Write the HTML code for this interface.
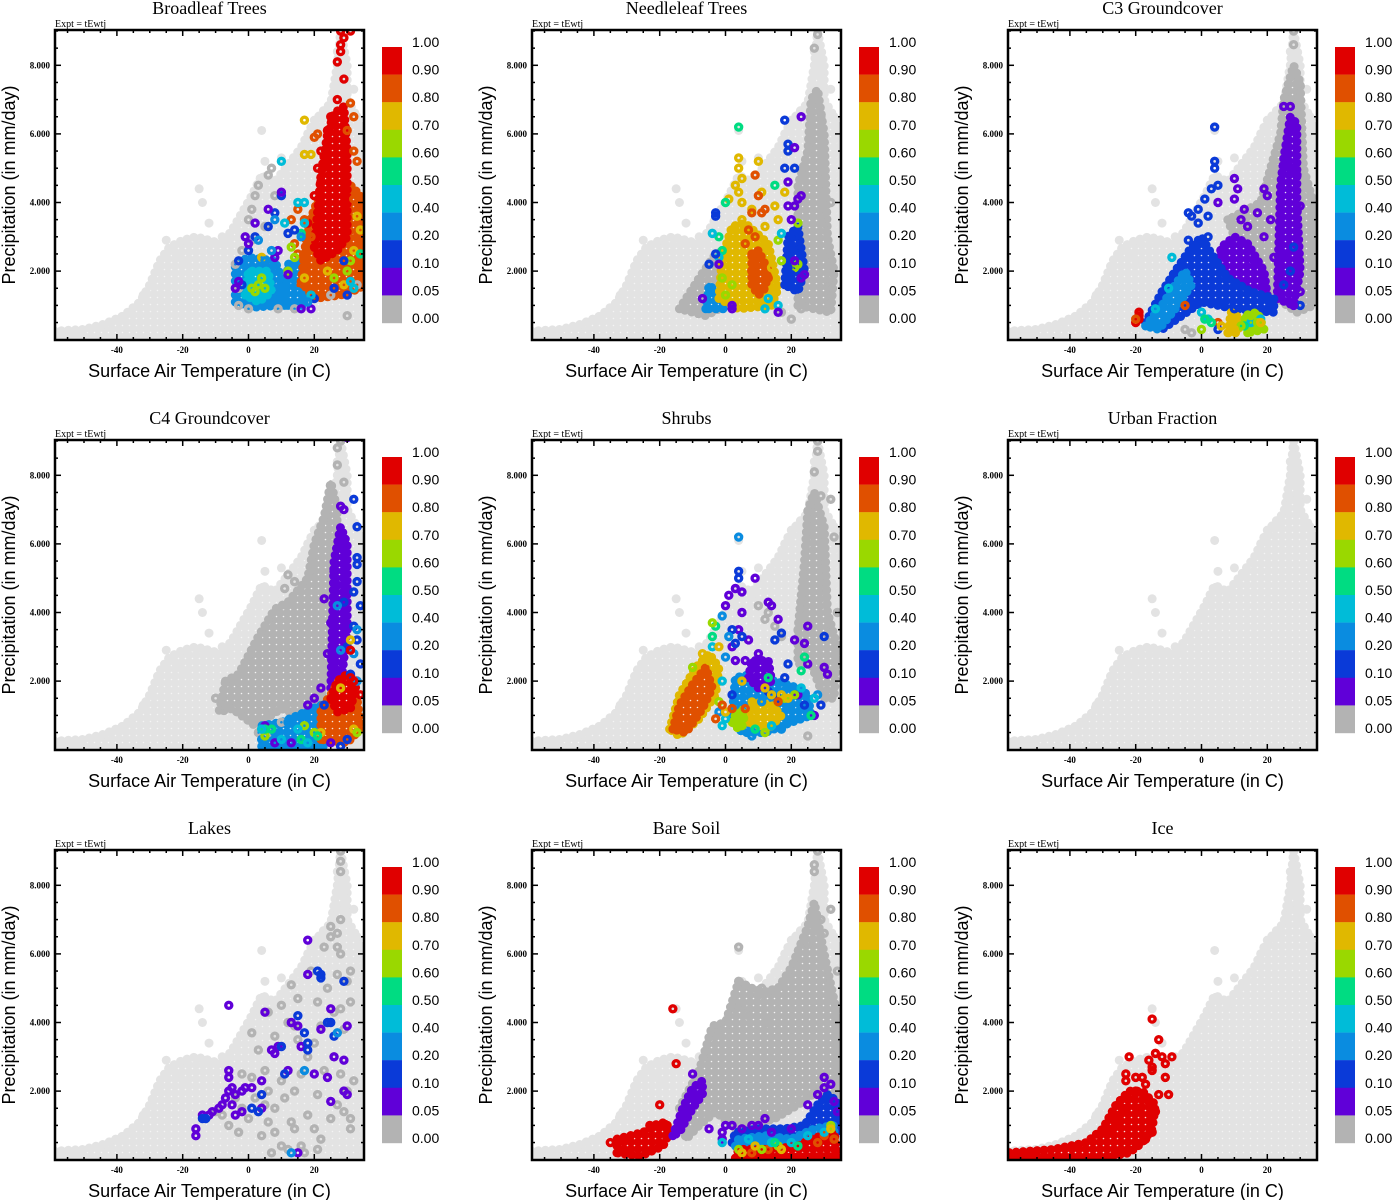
<!DOCTYPE html>
<html><head><meta charset="utf-8"><style>
body{margin:0;background:#fff;}
svg{display:block;}
.ser{font-family:"Liberation Serif",serif;}
.san{font-family:"Liberation Sans",sans-serif;}
</style></head><body>
<svg id="fig" width="1393" height="1200" xmlns="http://www.w3.org/2000/svg"><defs id="defs"></defs></svg>
<script>
// ---- shared axis data ----
const xTicks=[-40,-20,0,20];
const yTicks=[2,4,6,8];
const yTickLabels=["2.000","4.000","6.000","8.000"];
const cbLabels=["1.00","0.90","0.80","0.70","0.60","0.50","0.40","0.20","0.10","0.05","0.00"];
const cbColors=["#e00000","#e05000","#e0b800","#9ad800","#00dc82","#00bcd8","#0a8ce0","#0a3ad8","#6000d8","#b3b3b3"];
const binEdges=[0.9,0.8,0.7,0.6,0.5,0.4,0.2,0.1,0.05,0];
const titles=["Broadleaf Trees","Needleleaf Trees","C3 Groundcover","C4 Groundcover","Shrubs","Urban Fraction","Lakes","Bare Soil","Ice"];
// shared light-grey cloud (all grid cells)
const cloudUpper=[[-59,0.25],[-50,0.3],[-44,0.45],[-38,0.7],[-33,1.1],[-30,1.6],[-27,2.3],[-24,2.7],[-20,2.9],[-16,3.0],[-12,2.9],[-8,2.8],[-5,3.2],[-2,3.7],[1,4.2],[4,4.8],[8,4.6],[12,5.1],[16,5.6],[19,6.2],[22,6.6],[25,6.9],[27,8.0],[28,9.0],[30,8.0],[30,7.0],[33,6.5],[35,6.0]];
const cloudLower=[[35,0],[-59,0]];
const cloudPts=[[-32,1.3],[-25,2.9],[-15,4.4],[-14,4.0],[-12,3.4],[4,6.1],[5,5.2],[10,5.3],[20,6.4],[18,6.0],[27,8.4],[28,8.8],[32,7.3],[24,6.5],[33,6.5],[-8,3.0],[-20,2.3],[-22,2.5],[8,4.5],[29,7.8],[27,7.3]];

// ---- Broadleaf ----
const blBlobs=[
 [0.3,[[-4,1.1],[-4,2.2],[0,2.4],[8,2.3],[10,1.8],[9,1.0],[2,0.95]]],
 [0.45,[[-1,1.3],[0,2.0],[6,2.0],[7,1.4],[3,1.1]]],
 [0.3,[[11,1.0],[12,2.2],[17,2.3],[17,1.0]]],
 [0.85,[[16,1.7],[18,3.3],[22,4.3],[30,4.6],[34,4.2],[34,1.5],[28,1.3],[20,1.2]]],
 [0.95,[[20,2.7],[22,4.8],[24,6.0],[26,6.6],[29,6.8],[30,5.5],[30,3.0],[27,2.6],[22,2.3]]]];
const blGrey=[[-3,1.5],[-4,2.2],[-2,2.6],[0,3.5],[1,3.8],[3,4.5],[2,4.2],[6,4.8],[7,5.0],[5,3.3],[8,4.2],[14,0.9],[30,0.7],[33,1.6],[-3,1.0],[0,0.9],[25,1.3],[9,0.9],[1,2.9]];
const blPts=[[2,1.4,0.65],[3,1.6,0.65],[4,1.8,0.65],[1,1.5,0.65],[5,1.5,0.65],
[28,9.0,0.95],[29,8.8,0.95],[28,8.6,0.95],[28,8.4,0.95],[27,8.1,0.95],[29,7.6,0.95],[27,7.0,0.95],[25,6.5,0.95],[21,5.0,0.95],[23,5.1,0.95],[22,4.6,0.95],[20,4.2,0.95],[18,3.4,0.95],[24,6.1,0.95],[22,5.5,0.95],[31,9.0,0.95],
[20,5.9,0.85],[21,6.0,0.85],[31,6.9,0.85],[32,6.5,0.85],[30,6.1,0.85],[32,5.5,0.85],[33,5.2,0.85],[32,4.1,0.85],[13,3.5,0.85],[15,3.8,0.85],[17,3.5,0.85],[19,3.0,0.85],[14,2.8,0.85],[15,2.5,0.85],[17,2.0,0.85],[16,1.6,0.85],[33,3.0,0.85],
[17,6.4,0.75],[17,5.4,0.75],[19,5.4,0.75],[33,3.6,0.75],[34,3.2,0.75],[32,2.6,0.75],[29,1.6,0.75],[17,1.8,0.75],[24,2.0,0.75],[4,2.4,0.75],
[30,2.0,0.65],[31,2.3,0.65],[26,1.8,0.65],[13,2.7,0.65],[14,2.4,0.65],[12,2.0,0.65],[34,2.5,0.55],[16,3.1,0.55],
[10,4.2,0.15],[2,3.0,0.15],[6,3.3,0.15],[8,3.7,0.15],[0,2.6,0.15],[12,3.1,0.15],[14,3.2,0.15],[-3,2.3,0.15],[-2,1.6,0.15],[29,2.3,0.15],[30,1.3,0.15],[26,1.5,0.15],[20,1.2,0.15],
[10,5.2,0.45],[17,4.0,0.45],[15,4.0,0.45],[17,3.4,0.45],[11,3.4,0.45],[31,1.7,0.45],[32,1.5,0.45],[19,1.3,0.45],
[10,4.3,0.07],[6,3.8,0.07],[2,3.4,0.07],[-1,3.0,0.07],[0,2.8,0.07],[-3,1.7,0.07],[-4,1.5,0.07],[9,2.6,0.07],[16,0.9,0.07],[19,0.9,0.07],[12,1.9,0.07],[8,2.4,0.07],
[8,3.5,0.3],[7,2.6,0.3],[3,2.9,0.3],[5,2.3,0.3],[16,3.0,0.3],[15,1.4,0.3],[18,1.1,0.3]];

// ---- Needleleaf ----
const nlBlobs=[
 [0,[[-14,0.9],[-8,1.8],[-3,2.5],[0,2.6],[0,1.0],[-6,0.7]]],
 [0,[[22,1.0],[22,4.5],[25,5.5],[26,7.0],[28,7.3],[30,6.0],[31,3.0],[33,2.0],[32,0.8]]],
 [0.3,[[-6,0.9],[-5,1.6],[-3,1.4],[0,0.9]]],
 [0.75,[[-2,1.2],[-1,2.4],[2,3.3],[6,3.4],[13,2.8],[16,1.5],[14,1.0],[4,0.9]]],
 [0.85,[[8,2.5],[10,2.6],[13,2.0],[12,1.5],[10,1.3],[8,1.6]]],
 [0.12,[[18,1.6],[19,3.0],[22,3.3],[24,2.0],[22,1.4]]]];
const nlGrey=[[27,8.5],[28,8.9],[29,6.5],[30,3.4],[29,2.5],[31,1.7],[23,0.9],[20,0.6],[17,0.8],[32,4.0]];
const nlPts=[[4,5.3,0.75],[4,5.0,0.75],[10,5.2,0.75],[5,4.7,0.75],[3,4.5,0.75],[4,4.3,0.75],[1,4.1,0.75],[5,4.0,0.75],[11,4.3,0.75],[8,3.8,0.75],[5,3.5,0.75],[12,3.3,0.75],[16,3.5,0.75],[18,4.3,0.75],[15,3.9,0.75],[17,2.3,0.75],[14,2.1,0.75],
[9,4.8,0.85],[10,4.2,0.85],[8,3.7,0.85],[11,3.7,0.85],[7,3.2,0.85],[9,3.0,0.85],[12,3.8,0.85],[13,1.8,0.85],[8,2.0,0.85],[6,2.8,0.85],
[16,2.9,0.65],[22,3.4,0.65],[22,2.2,0.65],[21,2.1,0.65],[17,2.3,0.65],[0,1.3,0.65],[2,1.6,0.65],[-1,1.8,0.65],
[4,6.2,0.55],[0,4.0,0.55],[-2,3.0,0.55],[15,4.5,0.55],[-1,2.6,0.55],
[-4,3.1,0.45],[-2,2.4,0.45],[17,3.1,0.45],[16,1.0,0.45],[12,0.9,0.45],[13,1.2,0.45],
[18,6.4,0.15],[19,5.7,0.15],[19,5.5,0.15],[18,5.0,0.15],[21,5.0,0.15],[-3,3.7,0.15],[-3,3.6,0.15],[21,3.0,0.15],[22,2.6,0.15],[-5,2.2,0.15],[-3,2.5,0.15],[20,1.9,0.15],[19,2.1,0.15],
[23,6.5,0.07],[21,5.6,0.07],[19,4.6,0.07],[19,3.9,0.07],[22,4.1,0.07],[23,4.2,0.07],[21,3.9,0.07],[20,3.5,0.07],[21,2.3,0.07],[24,1.9,0.07],[23,1.8,0.07],[-7,1.2,0.07],[2,1.0,0.07],[2,0.9,0.07],[16,0.8,0.07],[-2,2.2,0.07]];

// ---- C3 ----
const c3Blobs=[
 [0,[[8,3.5],[10,3.0],[16,2.5],[23,1.2],[29,0.8],[34,1.0],[34,4.0],[31,5.0],[30,7.5],[28,8.0],[25,7.0],[24,6.0],[21,5.0],[18,4.0]]],
 [0.07,[[23,1.2],[24,4.5],[25,5.3],[27,6.5],[29,6.3],[29,4.0],[30,2.0],[28,1.0]]],
 [0.07,[[4,1.6],[6,2.7],[10,3.0],[14,2.8],[19,2.0],[20,1.3],[12,1.2]]],
 [0.15,[[-17,0.5],[-12,1.4],[-8,2.0],[-3,2.7],[0,3.0],[3,2.5],[8,1.8],[15,1.4],[22,1.2],[22,0.8],[10,0.9],[0,1.1],[-6,0.7],[-12,0.3]]],
 [0.3,[[-17,0.4],[-12,1.0],[-8,1.6],[-5,2.0],[-3,1.6],[-8,0.9],[-13,0.3]]],
 [0.75,[[8,0.2],[9,0.8],[12,0.6],[11,0.2]]],
 [0.65,[[14,0.2],[13,0.7],[17,0.8],[19,0.3]]]];
const c3Grey=[[28,8.6],[28,9.0],[27,7.0],[30,7.4],[-5,0.3],[-3,0.2]];
const c3Pts=[[-19,0.7,0.95],[-19,0.6,0.95],[-20,0.5,0.95],[-19,0.8,0.95],[-20,0.6,0.85],[-5,1.0,0.85],[5,0.5,0.85],
[4,6.2,0.15],[4,5.2,0.15],[4,5.0,0.15],[5,4.5,0.15],[3,4.4,0.15],[1,4.1,0.15],[-4,3.7,0.15],[-3,3.6,0.15],[-1,3.8,0.15],[2,3.6,0.15],[-1,3.4,0.15],[2,3.0,0.15],[-4,2.9,0.15],[10,0.9,0.15],[5,0.3,0.15],[25,1.6,0.15],[30,1.0,0.15],[27,2.0,0.15],[28,2.7,0.15],
[10,4.7,0.07],[10,4.1,0.07],[11,4.4,0.07],[5,4.0,0.07],[13,3.8,0.07],[12,3.5,0.07],[14,3.3,0.07],[19,4.4,0.07],[20,4.2,0.07],[17,3.7,0.07],[21,3.5,0.07],[19,3.0,0.07],[16,2.3,0.07],[25,6.8,0.07],[27,6.8,0.07],[27,6.1,0.07],[26,5.6,0.07],[28,5.0,0.07],[29,4.8,0.07],[30,3.9,0.07],[30,1.4,0.07],[28,1.0,0.07],[25,2.5,0.07],[22,2.4,0.07],
[-9,2.4,0.45],[-14,0.9,0.45],[-10,1.5,0.45],[0,0.8,0.45],[2,0.6,0.45],[15,0.5,0.45],[18,0.6,0.45],
[1,0.6,0.55],[3,0.5,0.55],[13,0.4,0.55],[0,0.3,0.65],[17,0.5,0.65],[15,0.7,0.65],[12,0.4,0.65],
[6,0.4,0.75],[9,0.4,0.75],[10,0.3,0.75],[18,0.5,0.75]];

// ---- C4 ----
const c4Blobs=[
 [0,[[-7,2.0],[-3,2.2],[3,3.3],[8,4.1],[12,4.3],[18,5.0],[20,6.0],[23,6.8],[25,7.8],[27,7.0],[26,3.0],[22,1.5],[18,0.9],[10,1.2],[2,0.7],[-5,1.2],[-9,1.1]]],
 [0.07,[[25,1.8],[26,5.5],[28,6.5],[30,6.0],[30,3.5],[28,1.8]]],
 [0.3,[[4,0.1],[4,0.7],[10,0.8],[15,1.0],[22,1.3],[23,0.1]]],
 [0.85,[[22,0.3],[22,1.2],[25,1.6],[28,2.1],[31,1.8],[33,1.5],[34,0.6],[30,0.2]]],
 [0.95,[[25,1.5],[27,2.0],[30,2.2],[33,2.0],[31,1.2],[27,1.1]]]];
const c4Grey=[[27,8.8],[28,9.0],[27,8.3],[29,7.8],[26,7.3],[11,4.7],[-10,1.5],[-8,1.3],[3,0.5],[10,0.8],[6,0.5],[14,4.9],[12,5.1]];
const c4Pts=[[30,9.1,0.07],[28,7.1,0.07],[29,7.0,0.07],[28,6.0,0.07],[26,5.2,0.07],[27,4.8,0.07],[23,4.4,0.07],[25,3.7,0.07],[24,2.8,0.07],[22,1.8,0.07],[20,1.5,0.07],[18,1.3,0.07],[5,0.7,0.07],[8,0.2,0.07],[13,0.2,0.07],[25,0.2,0.07],
[32,7.3,0.15],[33,6.5,0.15],[33,5.6,0.15],[33,5.4,0.15],[33,4.9,0.15],[32,4.6,0.15],[34,4.2,0.15],[32,3.6,0.15],[33,3.2,0.15],[30,3.0,0.15],[29,4.3,0.15],[34,2.5,0.15],[31,2.2,0.15],[23,1.3,0.15],[28,0.1,0.15],[30,0.3,0.15],
[33,3.5,0.3],[32,2.8,0.3],[33,2.0,0.3],[27,4.2,0.3],[28,2.9,0.3],[12,0.8,0.3],[8,0.5,0.3],[4,0.3,0.3],
[31,3.2,0.75],[28,1.8,0.75],[22,0.5,0.75],[32,0.6,0.75],[31,2.9,0.95],[31,2.1,0.95],[32,2.0,0.95],[34,1.6,0.95],
[5,0.4,0.65],[17,0.7,0.65],[20,0.5,0.65],[33,0.5,0.65],[7,0.6,0.55],[5,0.6,0.55],[16,0.3,0.55],[21,0.4,0.55],
[4,0.6,0.45],[15,0.6,0.45],[18,0.2,0.45],[10,0.3,0.45]];

// ---- Shrubs ----
const shBlobs=[
 [0,[[22,3.5],[24,5.5],[25,7.0],[27,7.5],[30,6.5],[31,4.0],[34,3.0],[33,1.5],[30,1.5],[26,2.5],[22,2.5]]],
 [0.75,[[-17,0.6],[-14,1.6],[-9,2.4],[-5,2.8],[-2,2.4],[-3,1.6],[-8,0.9],[-14,0.4]]],
 [0.85,[[-16,0.6],[-14,1.3],[-10,1.9],[-6,2.4],[-4,1.8],[-7,1.2],[-12,0.5]]],
 [0.3,[[2,1.0],[3,2.1],[8,2.2],[15,2.0],[22,1.8],[25,1.6],[26,1.0],[20,0.8],[12,0.5],[5,0.5]]],
 [0.07,[[7,2.1],[8,2.6],[13,2.6],[14,2.0],[10,1.8]]],
 [0.75,[[7,0.8],[8,1.4],[14,1.3],[17,1.0],[13,0.6]]],
 [0.65,[[2,0.8],[4,1.2],[6,1.0],[4,0.6]]]];
const shGrey=[[10,4.2],[12,3.8],[13,4.0],[28,8.7],[28,9.0],[27,8.1],[29,7.4],[32,7.3],[33,6.2],[34,4.0],[25,0.4],[17,3.3],[15,3.6]];
const shPts=[[1,4.5,0.07],[3,4.7,0.07],[5,4.6,0.07],[0,4.2,0.07],[5,4.0,0.07],[9,5.0,0.07],[13,4.3,0.07],[14,4.2,0.07],[16,3.8,0.07],[25,3.6,0.07],[4,3.5,0.07],[7,3.2,0.07],[3,2.6,0.07],[10,2.8,0.07],[21,3.2,0.07],[25,2.5,0.07],[24,3.1,0.07],[30,2.4,0.07],[31,2.2,0.07],[22,1.6,0.07],[27,1.0,0.07],[6,2.6,0.07],[2,3.0,0.07],
[4,5.2,0.15],[4,5.0,0.15],[2,3.5,0.15],[5,3.3,0.15],[3,3.1,0.15],[15,3.2,0.15],[17,3.4,0.15],[19,2.5,0.15],[30,3.3,0.15],[18,2.1,0.15],[16,1.5,0.15],[29,1.3,0.15],[2,1.6,0.15],[13,1.7,0.15],[24,1.3,0.15],
[4,6.2,0.3],[-1,3.9,0.3],[1,3.3,0.3],[0,2.7,0.3],[6,1.6,0.3],[3,1.3,0.3],[11,1.4,0.3],[20,1.3,0.3],[28,1.6,0.3],[-2,1.1,0.3],[17,0.6,0.3],[8,0.4,0.3],
[-4,3.0,0.45],[-1,2.0,0.45],[0,0.9,0.45],[-1,0.7,0.45],[23,1.8,0.45],[27,1.5,0.45],[14,0.7,0.45],
[-4,3.3,0.55],[-3,3.6,0.55],[24,2.7,0.55],[13,2.1,0.55],[23,2.3,0.55],[26,1.0,0.55],[9,0.6,0.55],
[-4,3.7,0.65],[-10,2.4,0.65],[-2,1.4,0.65],[18,1.5,0.65],[21,1.6,0.65],[5,0.7,0.65],[12,0.5,0.65],
[-2,3.0,0.75],[5,2.0,0.75],[12,1.8,0.75],[14,1.6,0.75],[17,1.6,0.75],[19,1.5,0.75],[-7,2.8,0.75],[-5,2.6,0.75],[0,1.1,0.75],
[-1,1.3,0.85],[2,1.2,0.85],[6,1.2,0.85],[16,1.4,0.85],[-3,0.9,0.85]];

// ---- Urban ----
const urBlobs=[];
const urGrey=[];
const urPts=[];

// ---- Lakes ----
const lkBlobs=[];
const lkGrey=[[-2,2.5],[1,2.4],[5,2.6],[10,2.3],[12,2.6],[3,3.2],[8,3.6],[1,3.7],[6,4.3],[12,4.0],[14,3.9],[15,3.5],[10,4.5],[13,5.1],[15,4.7],[19,5.5],[23,6.2],[25,6.5],[25,6.8],[27,6.6],[28,6.0],[27,5.4],[24,5.0],[26,4.3],[22,3.9],[20,3.4],[18,3.0],[16,2.5],[14,2.0],[11,1.8],[8,1.5],[5,1.6],[2,1.8],[-2,1.5],[-4,1.8],[-8,1.3],[-10,1.4],[-6,1.0],[6,1.1],[8,0.8],[14,0.9],[10,0.4],[12,0.3],[16,0.4],[17,0.2],[21,0.3],[22,0.6],[25,1.2],[27,1.6],[29,1.4],[31,1.2],[31,0.9],[30,2.0],[28,2.5],[32,2.3],[26,3.0],[29,3.8],[31,4.6],[28,4.4],[30,5.2],[31,5.5],[28,7.0],[28,8.7],[28,8.4],[28,9.0],[27,6.2],[21,4.6],[-3,0.8],[0,1.2],[6,2.0],[18,1.3],[21,1.9],[23,2.6],[4,0.7],[20,0.9],[7,0.2],[13,1.1]];
const lkPts=[[-16,0.9,0.07],[-16,0.7,0.07],[-14,1.3,0.07],[-12,1.3,0.07],[-11,1.4,0.07],[-9,1.5,0.07],[-8,1.6,0.07],[-7,1.8,0.07],[-6,2.0,0.07],[-5,2.1,0.07],[-6,2.4,0.07],[-4,1.9,0.07],[-5,1.6,0.07],[-2,2.0,0.07],[-1,2.1,0.07],[1,2.1,0.07],[4,2.3,0.07],[4,1.5,0.07],[-2,1.4,0.07],[-4,1.3,0.07],[-6,2.6,0.07],[-6,4.5,0.07],[5,4.3,0.07],[7,3.2,0.07],[8,3.1,0.07],[9,3.3,0.07],[12,2.6,0.07],[13,4.0,0.07],[18,6.4,0.07],[18,5.4,0.07],[15,3.9,0.07],[16,3.3,0.07],[20,2.5,0.07],[25,4.4,0.07],[22,3.8,0.07],[26,3.0,0.07],[30,3.9,0.07],[29,2.0,0.07],[25,1.7,0.07],[30,1.9,0.07],[29,2.9,0.07],[24,2.4,0.07],[15,0.2,0.07],
[-14,1.2,0.15],[-13,1.2,0.15],[1,1.5,0.15],[3,1.4,0.15],[4,1.9,0.15],[10,3.3,0.15],[11,2.5,0.15],[15,4.2,0.15],[17,3.7,0.15],[18,3.4,0.15],[18,3.2,0.15],[21,5.5,0.15],[22,5.4,0.15],[22,5.3,0.15],[24,4.0,0.15],[25,4.0,0.15],[26,3.6,0.15],[29,5.2,0.15],
[17,2.6,0.3],[27,3.7,0.3],[13,0.2,0.3]];

// ---- Bare soil ----
const bsBlobs=[
 [0,[[-14,1.5],[-8,2.6],[-4,3.9],[0,4.0],[4,5.2],[8,5.0],[12,4.9],[16,5.0],[20,5.6],[25,6.8],[27,7.5],[30,6.0],[34,4.2],[34,1.6],[28,2.0],[22,1.6],[15,1.2],[8,1.0],[3,0.9],[-3,1.4],[-8,1.0],[-12,0.6]]],
 [0.95,[[-33,0.2],[-33,0.6],[-25,0.8],[-22,1.0],[-18,1.1],[-17,0.8],[-19,0.4],[-26,0.1]]],
 [0.07,[[-16,0.7],[-13,1.5],[-10,2.1],[-7,2.3],[-7,1.9],[-10,1.5],[-14,0.8]]],
 [0.15,[[2,0.5],[3,0.8],[10,0.9],[18,0.9],[24,1.0],[28,1.6],[31,1.9],[34,1.7],[34,0.8],[25,0.6],[15,0.6],[8,0.5]]],
 [0.3,[[3,0.4],[4,0.6],[12,0.7],[20,0.6],[27,0.9],[33,1.0],[33,0.6],[20,0.4],[10,0.4]]],
 [0.95,[[3,0.05],[4,0.3],[8,0.3],[14,0.3],[22,0.4],[26,0.6],[33,0.8],[34,0.1]]]];
const bsGrey=[[4,6.2],[4,5.2],[10,4.8],[11,5.0],[27,8.6],[28,9.0],[27,8.4],[-3,3.7],[0,3.9],[3,4.4],[5,4.5],[7,4.2],[13,4.0],[15,3.7],[25,6.3],[30,6.6],[32,7.3],[34,5.5],[29,7.0]];
const bsPts=[[-35,0.5,0.95],[-16,4.4,0.95],[-15,2.8,0.95],[-20,1.6,0.95],[-23,1.0,0.95],
[8,0.2,0.85],[13,0.3,0.85],[30,0.7,0.85],[33,0.6,0.85],[28,0.5,0.85],
[-10,2.5,0.07],[-5,0.9,0.07],[-1,0.8,0.07],[0,1.0,0.07],[2,1.0,0.07],[5,0.9,0.07],[8,1.0,0.07],[10,1.0,0.07],[12,1.2,0.07],[14,0.8,0.07],[20,0.9,0.07],[25,1.6,0.07],[28,1.9,0.07],[30,2.1,0.07],[30,2.4,0.07],[32,2.2,0.07],[33,1.7,0.07],[34,1.4,0.07],[-1,0.6,0.07],
[-1,0.5,0.45],[20,0.5,0.45],[25,0.7,0.45],[30,0.8,0.45],[7,0.6,0.45],[14,0.5,0.45],
[4,0.3,0.65],[11,0.3,0.65],[16,0.4,0.65],[32,1.0,0.65],[5,0.2,0.75],[17,0.3,0.75],[32,0.9,0.75],[9,0.4,0.75],[15,0.5,0.55],[22,0.4,0.55]];

// ---- Ice ----
const icBlobs=[[0.95,[[-59,0.05],[-59,0.2],[-45,0.3],[-35,0.5],[-30,0.9],[-26,1.6],[-22,2.0],[-18,2.0],[-14,1.6],[-15,0.9],[-18,0.5],[-22,0.2],[-30,0.05]]]];
const icGrey=[];
const icPts=[[-15,4.1,0.95],[-13,3.5,0.95],[-14,3.1,0.95],[-15,2.7,0.95],[-16,2.9,0.95],[-15,2.6,0.95],[-12,3.0,0.95],[-11,2.8,0.95],[-11,2.4,0.95],[-9,3.0,0.95],[-10,1.9,0.95],[-22,3.0,0.95],[-23,2.5,0.95],[-23,2.3,0.95],[-20,2.4,0.95],[-18,2.4,0.95],[-17,2.2,0.95],[-19,1.8,0.95],[-21,1.9,0.95],[-25,1.3,0.95],[-25,1.1,0.95],[-14,1.4,0.95],[-15,0.8,0.95],[-17,0.6,0.95],[-20,0.5,0.95],[-20,2.0,0.95],[-16,1.7,0.95],[-13,1.9,0.95],[-24,1.5,0.95],[-27,0.9,0.95],[-19,1.5,0.95]];

const panelBlobs=[blBlobs,nlBlobs,c3Blobs,c4Blobs,shBlobs,urBlobs,lkBlobs,bsBlobs,icBlobs];
const panelGrey=[blGrey,nlGrey,c3Grey,c4Grey,shGrey,urGrey,lkGrey,bsGrey,icGrey];
const panelPts=[blPts,nlPts,c3Pts,c4Pts,shPts,urPts,lkPts,bsPts,icPts];

// ---- drawing ----
const NS="http://www.w3.org/2000/svg";
const svg=document.getElementById('fig');
const defs=document.getElementById('defs');
const PL=55,PR=364,PT=30,PB=340;
const xS=t=>248.5+3.29*t;
const yS=p=>339.7-34.3*p;
const LIGHT="#e3e3e3",GREY="#b3b3b3";
function colorOf(v){for(let i=0;i<binEdges.length;i++){if(v>=binEdges[i])return cbColors[i];}return GREY;}
function mk(tag,attrs,parent){const e=document.createElementNS(NS,tag);for(const k in attrs)e.setAttribute(k,attrs[k]);parent.appendChild(e);return e;}
function polyStr(pts){return pts.map(q=>xS(q[0]).toFixed(1)+","+yS(q[1]).toFixed(1)).join(" ");}
const slug=s=>s.toLowerCase().replace(/[^a-z0-9]+/g,'-');
// speckle patterns (dense rings look like colour with white specks)
const patIds={};
cbColors.concat([LIGHT]).forEach((c,k)=>{
  const id='pat'+k;patIds[c]=id;
  const p=mk('pattern',{id:id,width:7,height:7,patternUnits:'userSpaceOnUse'},defs);
  mk('rect',{width:7,height:7,fill:c},p);
  mk('circle',{cx:3.5,cy:3.5,r:0.8,fill:'#fff','fill-opacity':c===LIGHT?0.6:0.85},p);
});
function blob(parent,pts,col,name){
  const s=polyStr(pts);
  const p=mk('polygon',{points:s,fill:`url(#${patIds[col]})`,stroke:col,'stroke-width':4,'stroke-linejoin':'round'},parent);
  
  
  const e=mk('polygon',{points:s,fill:'none',stroke:col,'stroke-width':9,'stroke-linecap':'round','stroke-dasharray':'0 7'},parent);
  
  
}

titles.forEach((title,i)=>{
  const col=i%3,row=Math.floor(i/3);
  const g=mk('g',{transform:`translate(${[0,477,953][col]},${row*410})`},svg);
  
  
  const cid='clip'+i;
  const cp=mk('clipPath',{id:cid},g);mk('rect',{x:PL,y:PT,width:PR-PL,height:PB-PT},cp);
  const tt=mk('text',{x:209.5,y:14,'text-anchor':'middle','font-size':18,class:'ser'},g);tt.textContent=title;
  
  
  const ex=mk('text',{x:PL,y:27,'font-size':10,class:'ser'},g);ex.textContent="Expt = tEwtj";
  
  
  const pg=mk('g',{'clip-path':`url(#${cid})`},g);
  
  
  blob(pg,cloudUpper.concat(cloudLower),LIGHT,'all-cells-cloud');
  cloudPts.forEach(q=>{const c=mk('circle',{cx:xS(q[0]),cy:yS(q[1]),r:4.5,fill:LIGHT},pg);
    
    });
  panelBlobs[i].forEach(b=>{const c=b[0]===0?GREY:colorOf(b[0]);blob(pg,b[1],c,'dense-cluster');});
  panelGrey[i].forEach(q=>{const c=mk('circle',{cx:xS(q[0]),cy:yS(q[1]),r:3,fill:'none',stroke:GREY,'stroke-width':3.4},pg);
    
    });
  panelPts[i].forEach(q=>{const c=mk('circle',{cx:xS(q[0]),cy:yS(q[1]),r:3,fill:'none',stroke:colorOf(q[2]),'stroke-width':3.4},pg);
    
    });
  const fr=mk('rect',{x:PL,y:PT,width:PR-PL,height:PB-PT,fill:'none',stroke:'#000','stroke-width':2.5},g);
  
  
  const tk=mk('g',{stroke:'#000','stroke-width':1.5},g);
  
  
  for(let t=-55;t<=35;t+=5){const x=xS(t);if(x<PL+1||x>PR-1)continue;const L=(t%20===0)?6:3;
    mk('line',{x1:x,y1:PB,x2:x,y2:PB-L},tk);mk('line',{x1:x,y1:PT,x2:x,y2:PT+L},tk);}
  for(let p=0.5;p<=9;p+=0.5){const y=yS(p);if(y<PT+1)continue;const L=(p%2===0)?6:3;
    mk('line',{x1:PL,y1:y,x2:PL+L,y2:y},tk);mk('line',{x1:PR,y1:y,x2:PR-L,y2:y},tk);}
  xTicks.forEach(t=>{const e=mk('text',{x:xS(t),y:353,'text-anchor':'middle','font-size':9,'font-weight':'bold',class:'ser'},g);e.textContent=String(t);
    
    });
  yTicks.forEach((p,k)=>{const e=mk('text',{x:50,y:yS(p)+3,'text-anchor':'end','font-size':9,'font-weight':'bold',class:'ser'},g);e.textContent=yTickLabels[k];
    
    });
  const xt=mk('text',{x:209.5,y:377,'text-anchor':'middle','font-size':18,class:'san'},g);xt.textContent="Surface Air Temperature (in C)";
  
  
  const yt=mk('text',{x:0,y:0,'text-anchor':'middle','font-size':18,class:'san',transform:'translate(15,185) rotate(-90)'},g);yt.textContent="Precipitation (in mm/day)";
  
  
  const cb=mk('g',{},g);
  
  
  cbColors.forEach((c,k)=>{const r=mk('rect',{x:382,y:47+27.6*k,width:20,height:27.8,fill:c},cb);
    
    });
  cbLabels.forEach((l,k)=>{const e=mk('text',{x:412,y:47+27.6*k,'font-size':14,class:'san'},cb);e.textContent=l;
    
    });
});
</script>
</body></html>
